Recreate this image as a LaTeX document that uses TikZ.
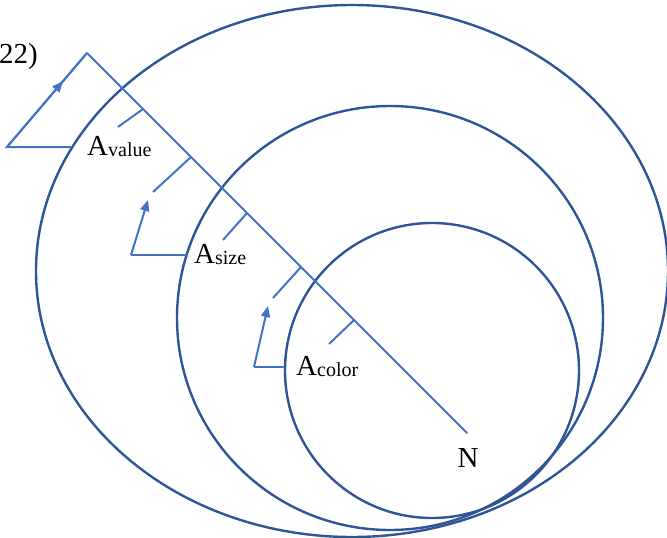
\documentclass[tikz,border=0pt]{standalone}
\usepackage{fontspec}
\setmainfont{Liberation Serif}
\usetikzlibrary{arrows.meta,decorations.markings}
\definecolor{ringblue}{HTML}{2F5597}
\definecolor{lineblue}{HTML}{4472C4}
\tikzset{
  ring/.style={draw=ringblue,line width=2.4pt},
  conn/.style={draw=lineblue,line width=2pt},
  tip/.style={-{Triangle[length=11pt,width=9pt]}},
  midtip/.style={postaction={decorate},decoration={markings,mark=at position #1 with {\arrow{Triangle[length=11pt,width=9pt]}}}},
  lbl/.style={inner sep=0pt,anchor=base west,font=\fontsize{29}{30}\selectfont},
}
\newcommand{\subtxt}[1]{\raisebox{-1pt}{\fontsize{20}{20}\selectfont #1}}
\begin{document}
\begin{tikzpicture}[x=1pt,y=-1pt]
\useasboundingbox (0,0) rectangle (667,538);
% rings
\draw[ring] (352,271) ellipse [x radius=316,y radius=266];
\draw[ring] (390,318) ellipse [x radius=213,y radius=212];
\draw[ring] (432,370.5) ellipse [x radius=147,y radius=147.5];
% main diagonal
\coordinate (apex) at (87,53);
\coordinate (nend) at (467,433);
\draw[conn,line cap=round] (apex) -- (nend);
% level value
\coordinate (c1) at (7,147);
\coordinate (h1) at (72,147);
\draw[conn] (h1) -- (c1) -- (apex);
\draw[conn,midtip=0.7] (c1) -- (apex);
\coordinate (t1s) at (143,109);
\coordinate (t1e) at (118,127);
\draw[conn] (t1s) -- (t1e);
% level size
\coordinate (c2) at (131,255);
\coordinate (h2) at (187,255);
\coordinate (a2) at (148,200);
\draw[conn] (h2) -- (c2);
\draw[conn,tip] (c2) -- (a2);
\coordinate (t2s) at (191,157);
\coordinate (t2e) at (153,192);
\draw[conn] (t2s) -- (t2e);
\coordinate (t3s) at (247,213);
\coordinate (t3e) at (223,240);
\draw[conn] (t3s) -- (t3e);
% level color
\coordinate (c3) at (254,367);
\coordinate (h3) at (285,367);
\coordinate (a3) at (268,306);
\draw[conn] (h3) -- (c3);
\draw[conn,tip] (c3) -- (a3);
\coordinate (t4s) at (301,267);
\coordinate (t4e) at (273,298);
\draw[conn] (t4s) -- (t4e);
\coordinate (t5s) at (354,320);
\coordinate (t5e) at (329,344);
\draw[conn] (t5s) -- (t5e);
% labels
\node[lbl] (lv) at (87,155) {A\subtxt{value}};
\node[lbl] (ls) at (194,263) {A\subtxt{size}};
\node[lbl] (lc) at (296,375) {A\subtxt{color}};
\node[lbl,anchor=base] (ln) at (468,467) {N};
\node[lbl,anchor=base east] (yr) at (38,63) {22)};
\end{tikzpicture}
\end{document}
